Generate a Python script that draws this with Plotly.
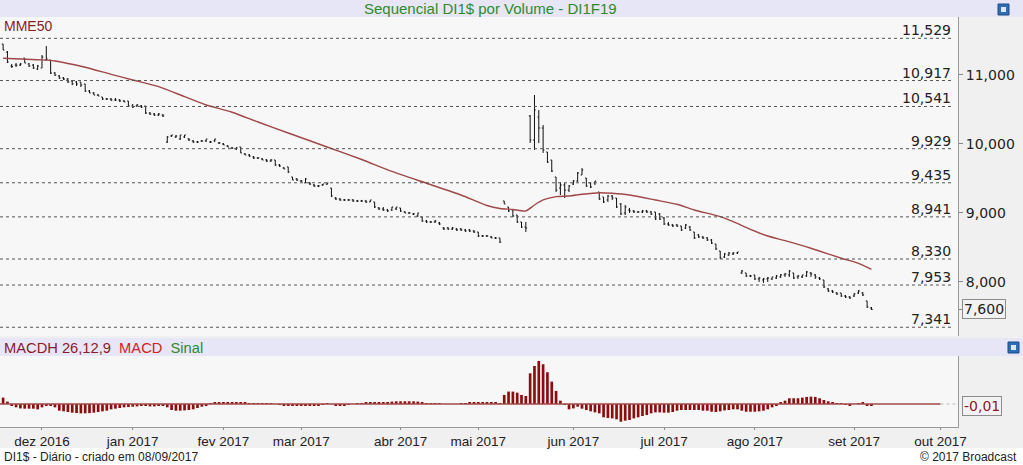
import numpy as np
import pandas as pd
import plotly.graph_objects as go

# ---------------- data ----------------
holidays = ["2016-12-30", "2017-01-25", "2017-02-27", "2017-02-28", "2017-04-14",
            "2017-04-21", "2017-05-01", "2017-06-15", "2017-09-07", "2017-10-12"]
month_names = ["jan", "fev", "mar", "abr", "mai", "jun", "jul", "ago", "set", "out", "nov", "dez"]

open_ = [
    11.446, 11.330, 11.128, 11.142, 11.142, 11.243, 11.157, 11.142, 11.084, 11.099,
    11.214, 11.214, 11.026, 10.983, 10.954, 10.939, 10.910, 10.896, 10.896, 10.867,
    10.765, 10.736, 10.707, 10.678, 10.649, 10.649, 10.635, 10.635, 10.620, 10.620,
    10.548, 10.548, 10.548, 10.548, 10.446, 10.432, 10.417, 10.417, 10.026, 10.113,
    10.099, 10.070, 10.099, 10.070, 10.041, 10.026, 10.041, 10.041, 10.026, 10.041,
    10.012, 9.997, 9.968, 9.939, 9.925, 9.954, 9.852, 9.838, 9.809, 9.794,
    9.780, 9.765, 9.751, 9.765, 9.693, 9.649, 9.664, 9.519, 9.490, 9.461,
    9.432, 9.432, 9.403, 9.388, 9.403, 9.417, 9.359, 9.214, 9.200, 9.186,
    9.186, 9.186, 9.171, 9.171, 9.171, 9.157, 9.157, 9.070, 9.055, 9.041,
    9.041, 9.055, 9.070, 9.012, 8.997, 8.983, 8.954, 8.939, 8.881, 8.867,
    8.867, 8.852, 8.780, 8.780, 8.765, 8.765, 8.765, 8.751, 8.751, 8.736,
    8.722, 8.664, 8.664, 8.649, 8.635, 8.635, 9.171, 9.084, 9.041, 8.968,
    8.867, 8.794, 10.403, 10.055, 10.388, 10.229, 9.881, 9.765, 9.519, 9.359,
    9.403, 9.330, 9.417, 9.461, 9.548, 9.504, 9.432, 9.432, 9.301, 9.229,
    9.186, 9.243, 9.214, 9.128, 8.997, 9.041, 9.026, 9.012, 9.012, 9.026,
    9.012, 9.012, 8.983, 8.925, 8.838, 8.823, 8.823, 8.809, 8.780, 8.794,
    8.722, 8.678, 8.649, 8.635, 8.606, 8.548, 8.446, 8.359, 8.388, 8.403,
    8.417, 8.128, 8.128, 8.084, 8.099, 8.041, 8.026, 8.041, 8.041, 8.055,
    8.070, 8.099, 8.099, 8.128, 8.070, 8.070, 8.084, 8.128, 8.099, 8.055,
    8.026, 7.896, 7.867, 7.838, 7.838, 7.794, 7.780, 7.794, 7.838, 7.838,
    7.722, 7.620,
]
high = [
    11.446, 11.345, 11.157, 11.171, 11.171, 11.243, 11.171, 11.157, 11.142, 11.287,
    11.417, 11.214, 11.041, 10.997, 10.968, 10.954, 10.925, 10.910, 10.896, 10.867,
    10.780, 10.751, 10.722, 10.678, 10.664, 10.664, 10.664, 10.649, 10.635, 10.620,
    10.577, 10.577, 10.562, 10.548, 10.461, 10.446, 10.446, 10.432, 10.113, 10.128,
    10.128, 10.128, 10.128, 10.084, 10.055, 10.041, 10.055, 10.070, 10.041, 10.070,
    10.026, 10.012, 9.983, 9.954, 9.954, 9.954, 9.867, 9.852, 9.823, 9.809,
    9.794, 9.780, 9.780, 9.765, 9.707, 9.664, 9.664, 9.519, 9.504, 9.475,
    9.504, 9.446, 9.417, 9.403, 9.417, 9.432, 9.359, 9.229, 9.214, 9.200,
    9.200, 9.200, 9.186, 9.186, 9.186, 9.186, 9.157, 9.084, 9.084, 9.055,
    9.084, 9.084, 9.070, 9.026, 9.012, 8.997, 8.997, 8.939, 8.896, 8.881,
    8.896, 8.867, 8.794, 8.794, 8.794, 8.780, 8.780, 8.765, 8.765, 8.751,
    8.722, 8.678, 8.678, 8.664, 8.649, 8.635, 9.171, 9.084, 9.041, 8.968,
    8.867, 8.867, 10.417, 10.707, 10.490, 10.272, 9.881, 9.765, 9.519, 9.446,
    9.432, 9.403, 9.475, 9.591, 9.649, 9.504, 9.446, 9.461, 9.301, 9.229,
    9.258, 9.258, 9.214, 9.142, 9.113, 9.070, 9.041, 9.026, 9.041, 9.041,
    9.026, 9.012, 8.997, 8.939, 8.867, 8.838, 8.838, 8.809, 8.838, 8.809,
    8.722, 8.693, 8.664, 8.649, 8.620, 8.548, 8.446, 8.417, 8.432, 8.432,
    8.432, 8.171, 8.128, 8.099, 8.099, 8.070, 8.055, 8.070, 8.070, 8.099,
    8.113, 8.128, 8.171, 8.128, 8.099, 8.099, 8.157, 8.142, 8.113, 8.070,
    8.026, 7.910, 7.881, 7.852, 7.838, 7.809, 7.794, 7.838, 7.881, 7.852,
    7.722, 7.635,
]
low = [
    11.359, 11.171, 11.099, 11.113, 11.128, 11.171, 11.113, 11.084, 11.070, 11.099,
    11.214, 11.012, 10.983, 10.939, 10.925, 10.881, 10.852, 10.838, 10.823, 10.751,
    10.736, 10.707, 10.693, 10.635, 10.635, 10.620, 10.620, 10.606, 10.606, 10.533,
    10.519, 10.533, 10.519, 10.432, 10.417, 10.403, 10.403, 10.388, 10.012, 10.099,
    10.084, 10.055, 10.084, 10.041, 10.012, 10.012, 10.026, 10.026, 10.012, 10.026,
    9.997, 9.983, 9.954, 9.925, 9.910, 9.867, 9.838, 9.809, 9.780, 9.780,
    9.765, 9.736, 9.736, 9.678, 9.664, 9.635, 9.577, 9.475, 9.461, 9.446,
    9.432, 9.403, 9.374, 9.374, 9.388, 9.403, 9.229, 9.186, 9.171, 9.171,
    9.171, 9.157, 9.157, 9.157, 9.142, 9.157, 9.070, 9.041, 9.026, 9.012,
    9.026, 9.041, 9.012, 8.997, 8.983, 8.968, 8.939, 8.867, 8.852, 8.852,
    8.852, 8.823, 8.751, 8.751, 8.751, 8.736, 8.736, 8.722, 8.722, 8.707,
    8.649, 8.649, 8.649, 8.635, 8.620, 8.562, 9.128, 9.012, 8.939, 8.852,
    8.780, 8.722, 10.012, 9.910, 10.012, 9.867, 9.722, 9.591, 9.301, 9.258,
    9.214, 9.301, 9.403, 9.446, 9.548, 9.374, 9.359, 9.403, 9.186, 9.142,
    9.157, 9.186, 9.070, 8.968, 8.968, 8.997, 8.997, 8.997, 8.997, 8.997,
    8.968, 8.896, 8.896, 8.823, 8.809, 8.794, 8.794, 8.736, 8.765, 8.736,
    8.620, 8.635, 8.620, 8.591, 8.548, 8.461, 8.330, 8.345, 8.374, 8.388,
    8.403, 8.113, 8.070, 8.070, 8.026, 7.997, 7.983, 7.997, 8.026, 8.041,
    8.055, 8.070, 8.070, 8.041, 8.041, 8.055, 8.070, 8.070, 8.041, 8.026,
    7.910, 7.852, 7.838, 7.809, 7.780, 7.765, 7.751, 7.780, 7.823, 7.794,
    7.620, 7.591,
]
close = [
    11.359, 11.186, 11.120, 11.140, 11.157, 11.171, 11.128, 11.099, 11.128, 11.258,
    11.229, 11.026, 10.997, 10.954, 10.939, 10.896, 10.867, 10.867, 10.852, 10.765,
    10.736, 10.707, 10.693, 10.649, 10.649, 10.635, 10.635, 10.620, 10.606, 10.548,
    10.533, 10.562, 10.533, 10.446, 10.432, 10.417, 10.432, 10.403, 10.099, 10.128,
    10.113, 10.128, 10.128, 10.055, 10.026, 10.026, 10.041, 10.070, 10.026, 10.070,
    10.012, 9.983, 9.954, 9.939, 9.939, 9.867, 9.838, 9.823, 9.794, 9.794,
    9.765, 9.751, 9.765, 9.693, 9.678, 9.635, 9.591, 9.475, 9.475, 9.461,
    9.490, 9.417, 9.388, 9.388, 9.417, 9.432, 9.243, 9.200, 9.186, 9.186,
    9.186, 9.171, 9.171, 9.171, 9.157, 9.186, 9.084, 9.055, 9.041, 9.026,
    9.084, 9.084, 9.026, 8.997, 8.997, 8.983, 8.997, 8.881, 8.867, 8.867,
    8.881, 8.838, 8.765, 8.765, 8.780, 8.751, 8.751, 8.736, 8.736, 8.722,
    8.664, 8.664, 8.664, 8.635, 8.635, 8.577, 9.128, 9.026, 8.954, 8.867,
    8.794, 8.780, 10.055, 10.490, 10.229, 9.910, 9.736, 9.606, 9.330, 9.403,
    9.330, 9.388, 9.461, 9.577, 9.620, 9.388, 9.374, 9.461, 9.200, 9.157,
    9.243, 9.214, 9.084, 8.983, 9.084, 9.026, 9.012, 9.012, 9.026, 9.012,
    8.983, 8.910, 8.910, 8.838, 8.823, 8.809, 8.809, 8.751, 8.823, 8.751,
    8.635, 8.649, 8.635, 8.606, 8.562, 8.475, 8.345, 8.403, 8.417, 8.417,
    8.432, 8.157, 8.084, 8.084, 8.041, 8.055, 8.041, 8.055, 8.070, 8.084,
    8.099, 8.113, 8.157, 8.055, 8.084, 8.099, 8.142, 8.113, 8.070, 8.041,
    7.925, 7.867, 7.852, 7.823, 7.794, 7.780, 7.765, 7.823, 7.867, 7.809,
    7.635, 7.600,
]
macdh = [
    0.048, 0.018, -0.008, -0.025, -0.033, -0.035, -0.035, -0.035, -0.040, -0.025,
    -0.010, -0.015, -0.025, -0.050, -0.055, -0.060, -0.065, -0.068, -0.070, -0.070,
    -0.068, -0.065, -0.060, -0.055, -0.050, -0.040, -0.035, -0.030, -0.025, -0.023,
    -0.020, -0.018, -0.013, -0.015, -0.018, -0.018, -0.015, -0.013, -0.025, -0.045,
    -0.050, -0.050, -0.048, -0.045, -0.040, -0.030, -0.020, -0.008, 0.005, 0.010,
    0.013, 0.015, 0.015, 0.015, 0.013, 0.010, 0.008, 0.005, 0.003, 0.003,
    0.001, 0.003, 0.003, 0.000, -0.003, -0.008, -0.010, -0.013, -0.013, -0.015,
    -0.015, -0.013, -0.010, -0.008, -0.005, 0.003, 0.000, -0.010, -0.013, -0.010,
    -0.003, 0.000, 0.005, 0.005, 0.008, 0.008, 0.010, 0.010, 0.013, 0.013,
    0.018, 0.020, 0.020, 0.020, 0.020, 0.020, 0.018, 0.008, 0.005, 0.005,
    0.005, 0.003, 0.000, 0.000, 0.000, 0.000, 0.003, 0.005, 0.008, 0.008,
    0.008, 0.008, 0.008, 0.008, 0.008, 0.005, 0.068, 0.093, 0.093, 0.085,
    0.068, 0.060, 0.230, 0.285, 0.323, 0.298, 0.238, 0.168, 0.098, 0.025,
    -0.003, -0.040, -0.033, -0.020, -0.035, -0.045, -0.055, -0.063, -0.070, -0.100,
    -0.105, -0.108, -0.115, -0.133, -0.125, -0.120, -0.108, -0.100, -0.090, -0.083,
    -0.070, -0.063, -0.063, -0.065, -0.065, -0.060, -0.050, -0.045, -0.045, -0.045,
    -0.045, -0.045, -0.050, -0.050, -0.058, -0.060, -0.055, -0.048, -0.045, -0.040,
    -0.040, -0.050, -0.058, -0.058, -0.058, -0.055, -0.050, -0.040, -0.025, -0.010,
    0.010, 0.025, 0.043, 0.043, 0.043, 0.048, 0.053, 0.055, 0.053, 0.043,
    0.030, 0.020, 0.010, 0.005, 0.003, -0.005, -0.015, 0.000, 0.005, 0.010,
    -0.010, -0.013,
]
# MME50 read at selected sessions (session number counted from the first bar)
ema_bar = [0, 4, 9, 12, 15, 19, 25, 30, 36, 42, 47, 53, 59, 66, 75, 83, 90, 98, 106,
           112, 115, 118, 121, 123, 125, 128, 131, 134, 138, 141, 145, 151, 156, 160,
           166, 169, 173, 177, 181, 187, 194, 198, 201]
ema_val = [11.239, 11.229, 11.217, 11.200, 11.164, 11.109, 11.007, 10.925, 10.828,
           10.683, 10.562, 10.457, 10.316, 10.157, 9.954, 9.772, 9.599, 9.428, 9.258,
           9.106, 9.062, 9.048, 9.026, 9.113, 9.186, 9.234, 9.243, 9.268, 9.291,
           9.283, 9.258, 9.186, 9.123, 9.041, 8.944, 8.871, 8.761, 8.664, 8.596,
           8.486, 8.341, 8.268, 8.181]
levels = [11.529, 10.917, 10.541, 9.929, 9.435, 8.941, 8.330, 7.953, 7.341]
price_ticks = [7.6, 8.0, 9.0, 10.0, 11.0]

assert len(open_) == len(high) == len(low) == len(close) == len(macdh) == 202
assert len(ema_bar) == len(ema_val)

# trading calendar (B3)
days = pd.bdate_range("2016-11-18", "2017-10-31")
days = days[~days.isin(pd.to_datetime(holidays))]
xpos = list(range(len(close)))
per = days.to_period("M")
tick_months = pd.period_range("2016-12", "2017-10", freq="M")
tickvals = [int(np.argmax(per == m)) for m in tick_months]
ticktext = [f"{month_names[m.month - 1]} {m.year}" for m in tick_months]


def br(v, d=3):
    return f"{v:.{d}f}".replace(".", ",")


# ---------------- geometry helpers ----------------
W, H = 1023, 465
ML, MR, MT, MB = 0, 65, 17, 38
PW, PH = W - ML - MR, H - MT - MB
XR = [-0.72, 221.04]


def py(ypx):
    return (H - MB - ypx) / PH


def pxp(xpx):
    return (xpx - ML) / PW


main_dom = [py(336), 1.0]
macd_dom = [0.0, py(356)]

BROWN = "#A04848"
fig = go.Figure()

fig.add_trace(go.Ohlc(
    x=xpos, open=open_, high=high, low=low, close=close,
    increasing=dict(line=dict(color="#111111", width=1)),
    decreasing=dict(line=dict(color="#111111", width=1)),
    tickwidth=0.3, xaxis="x", yaxis="y", hoverinfo="skip", showlegend=False))

fig.add_trace(go.Scatter(
    x=ema_bar, y=ema_val, mode="lines", line=dict(color=BROWN, width=1.4, shape="spline", smoothing=0.6),
    xaxis="x", yaxis="y", hoverinfo="skip", showlegend=False))

fig.add_trace(go.Bar(
    x=xpos, y=macdh, width=0.62, marker=dict(color="#8B0D0D", line=dict(width=0)),
    xaxis="x", yaxis="y2", hoverinfo="skip", showlegend=False))

shapes = []
# bands
LAV = "#E6E6F6"
shapes.append(dict(type="rect", xref="paper", yref="paper", x0=pxp(0), x1=pxp(W), y0=py(17), y1=py(0),
                   fillcolor=LAV, line=dict(width=0), layer="below"))
shapes.append(dict(type="rect", xref="paper", yref="paper", x0=pxp(0), x1=pxp(W), y0=py(356), y1=py(338),
                   fillcolor=LAV, line=dict(width=0), layer="below"))
shapes.append(dict(type="rect", xref="paper", yref="paper", x0=pxp(0), x1=pxp(W), y0=py(H), y1=py(448),
                   fillcolor="#FFFFFF", line=dict(width=0), layer="below"))
# icons
for (x0, y0) in [(998, 4), (1008, 342)]:
    shapes.append(dict(type="rect", xref="paper", yref="paper", x0=pxp(x0), x1=pxp(x0 + 11),
                       y0=py(y0 + 11), y1=py(y0), fillcolor="#2E6DB4", line=dict(color="#1B4C86", width=1)))
    shapes.append(dict(type="rect", xref="paper", yref="paper", x0=pxp(x0 + 3), x1=pxp(x0 + 8),
                       y0=py(y0 + 8), y1=py(y0 + 3), fillcolor="#DDE8F5", line=dict(width=0)))
# dotted levels
for lv in levels:
    shapes.append(dict(type="line", xref="paper", yref="y", x0=0, x1=pxp(953), y0=lv, y1=lv,
                       line=dict(color="#555555", width=1, dash="dot")))
# MACD zero line
shapes.append(dict(type="line", xref="x", yref="y2", x0=XR[0], x1=tickvals[-1], y0=0, y1=0,
                   line=dict(color=BROWN, width=1.5)))
shapes.append(dict(type="line", xref="x", yref="y2", x0=tickvals[-1], x1=XR[1], y0=0, y1=0,
                   line=dict(color="#BBBBBB", width=1, dash="dot")))

ann = []
ann.append(dict(text="Sequencial DI1$ por Volume - DI1F19", xref="paper", yref="paper",
                x=pxp(490), y=py(8.5), xanchor="center", yanchor="middle", showarrow=False,
                font=dict(family="Liberation Sans, Arial", size=15, color="#2E8B2E")))
ann.append(dict(text="MME50", xref="paper", yref="paper", x=pxp(2), y=py(26), xanchor="left",
                yanchor="middle", showarrow=False,
                font=dict(family="Liberation Sans, Arial", size=14, color="#8B1A2A")))
ann.append(dict(text='<span style="color:#8B1A2A">MACDH 26,12,9</span>&nbsp;&nbsp;'
                     '<span style="color:#D42020">MACD</span>&nbsp;&nbsp;'
                     '<span style="color:#2E8B2E">Sinal</span>',
                xref="paper", yref="paper", x=pxp(2), y=py(347.5), xanchor="left", yanchor="middle",
                showarrow=False, font=dict(family="Liberation Sans, Arial", size=14.7)))
ann.append(dict(text="DI1$ - Diário - criado em 08/09/2017", xref="paper", yref="paper",
                x=pxp(2), y=py(456.5), xanchor="left", yanchor="middle", showarrow=False,
                font=dict(family="Liberation Sans, Arial", size=12, color="#222222")))
ann.append(dict(text="© 2017 Broadcast", xref="paper", yref="paper",
                x=pxp(1019), y=py(456.5), xanchor="right", yanchor="middle", showarrow=False,
                font=dict(family="Liberation Sans, Arial", size=12, color="#222222")))
for lv in levels:
    ann.append(dict(text=br(lv), xref="paper", yref="y", x=pxp(953), y=lv, xanchor="right",
                    yanchor="bottom", yshift=-2, showarrow=False,
                    font=dict(family="DejaVu Sans", size=14, color="#222222")))
ann.append(dict(text=br(close[-1]), xref="paper", yref="y", x=pxp(962), y=close[-1], xanchor="left",
                yanchor="middle", showarrow=False, bordercolor="#8C8C8C", borderwidth=1, borderpad=1,
                bgcolor="#F2F2F2", font=dict(family="DejaVu Sans", size=14, color="#222222")))
ann.append(dict(text=br(round(macdh[-1], 2), 2), xref="paper", yref="y2", x=pxp(962), y=macdh[-1],
                xanchor="left", yanchor="middle", showarrow=False, bordercolor="#8C8C8C", borderwidth=1,
                borderpad=1, bgcolor="#F2F2F2",
                font=dict(family="DejaVu Sans", size=14, color="#8B1A2A")))

fig.update_layout(
    width=W, height=H, margin=dict(l=ML, r=MR, t=MT, b=MB, pad=0),
    paper_bgcolor="#F0F0F0", plot_bgcolor="#F7F7F7",
    showlegend=False, separators=",.",
    shapes=shapes, annotations=ann,
    xaxis=dict(domain=[0, 1], anchor="y2", range=XR, tickvals=tickvals, ticktext=ticktext,
               ticks="outside", ticklen=2, tickcolor="#888888", showline=True, linecolor="#999999",
               showgrid=False, zeroline=False, rangeslider=dict(visible=False), fixedrange=True,
               tickfont=dict(family="Liberation Sans, Arial", size=13.5, color="#222222")),
    yaxis=dict(domain=main_dom, anchor="x", side="right", range=[7.214, 11.838],
               tickvals=price_ticks, ticktext=["" if v == 7.6 else br(v) for v in price_ticks],
               ticks="outside", ticklen=4, tickcolor="#888888", showline=True, linecolor="#999999",
               showgrid=False, zeroline=False, fixedrange=True,
               tickfont=dict(family="DejaVu Sans", size=14, color="#222222")),
    yaxis2=dict(domain=macd_dom, anchor="x", side="right", range=[-0.1725, 0.36],
                showticklabels=False, ticks="", showline=True, linecolor="#999999",
                showgrid=False, zeroline=False, fixedrange=True),
)

fig.write_html("out.html")
